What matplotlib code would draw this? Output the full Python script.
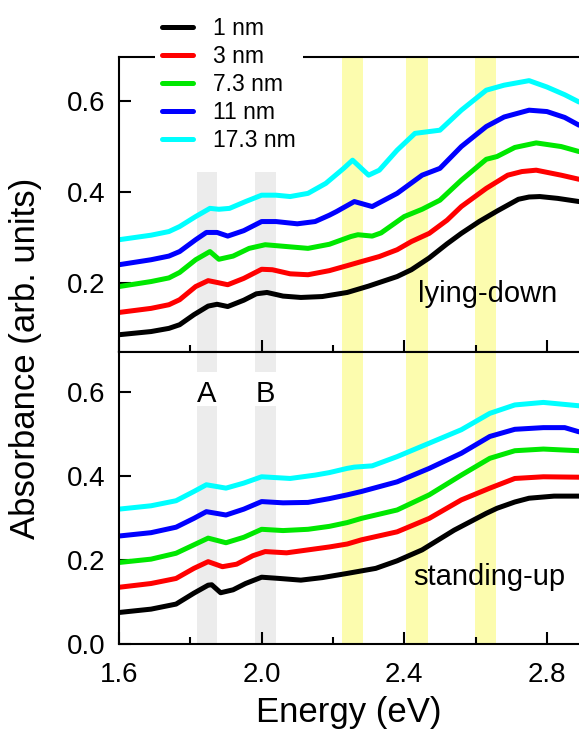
import matplotlib
matplotlib.use("Agg")
import matplotlib.pyplot as plt
from matplotlib.ticker import MultipleLocator

plt.rcParams["font.family"] = ["Liberation Sans", "DejaVu Sans"]

# film thickness labels and line colours
thickness = ["1 nm", "3 nm", "7.3 nm", "11 nm", "17.3 nm"]
colors = ["#000000", "#ff0000", "#00e800", "#0000ff", "#00ffff"]

# lying-down spectra (energy in eV, absorbance)
lying_e = [
    [1.60, 1.69, 1.74, 1.77, 1.81, 1.85, 1.875, 1.905, 1.95, 1.985, 2.015, 2.06, 2.11,
     2.17, 2.24, 2.30, 2.38, 2.42, 2.47, 2.52, 2.56, 2.61, 2.66, 2.72, 2.75, 2.78, 2.83, 2.89],
    [1.60, 1.69, 1.74, 1.77, 1.815, 1.85, 1.875, 1.905, 1.95, 2.00, 2.03, 2.08, 2.13,
     2.19, 2.24, 2.28, 2.33, 2.38, 2.42, 2.47, 2.52, 2.56, 2.63, 2.69, 2.73, 2.77, 2.84, 2.89],
    [1.60, 1.69, 1.74, 1.77, 1.815, 1.855, 1.88, 1.92, 1.965, 2.01, 2.07, 2.13, 2.19,
     2.25, 2.27, 2.31, 2.335, 2.40, 2.45, 2.50, 2.56, 2.63, 2.66, 2.71, 2.77, 2.84, 2.89],
    [1.60, 1.69, 1.74, 1.77, 1.815, 1.845, 1.875, 1.905, 1.95, 2.00, 2.04, 2.10, 2.15,
     2.19, 2.21, 2.26, 2.31, 2.38, 2.45, 2.50, 2.56, 2.63, 2.68, 2.75, 2.80, 2.85, 2.89],
    [1.60, 1.69, 1.74, 1.77, 1.815, 1.855, 1.88, 1.91, 1.955, 2.00, 2.04, 2.08, 2.13,
     2.18, 2.23, 2.255, 2.30, 2.33, 2.38, 2.43, 2.50, 2.56, 2.63, 2.68, 2.75, 2.80, 2.85, 2.89],
]
lying_a = [
    [0.086, 0.093, 0.100, 0.108, 0.130, 0.149, 0.153, 0.148, 0.162, 0.176, 0.179, 0.171, 0.168,
     0.170, 0.179, 0.193, 0.214, 0.229, 0.255, 0.286, 0.309, 0.335, 0.358, 0.384, 0.389, 0.390,
     0.386, 0.379],
    [0.135, 0.144, 0.152, 0.163, 0.192, 0.205, 0.201, 0.196, 0.210, 0.230, 0.229, 0.220, 0.218,
     0.227, 0.238, 0.247, 0.258, 0.273, 0.291, 0.309, 0.338, 0.368, 0.408, 0.437, 0.445, 0.448,
     0.437, 0.428],
    [0.192, 0.203, 0.211, 0.223, 0.251, 0.269, 0.252, 0.259, 0.276, 0.284, 0.280, 0.276, 0.285,
     0.302, 0.306, 0.303, 0.310, 0.346, 0.362, 0.382, 0.426, 0.472, 0.478, 0.498, 0.508, 0.500,
     0.489],
    [0.240, 0.251, 0.259, 0.269, 0.295, 0.311, 0.311, 0.303, 0.315, 0.335, 0.335, 0.330, 0.335,
     0.349, 0.357, 0.379, 0.368, 0.397, 0.437, 0.452, 0.500, 0.544, 0.565, 0.580, 0.577, 0.564,
     0.547],
    [0.295, 0.305, 0.313, 0.324, 0.346, 0.364, 0.362, 0.364, 0.379, 0.393, 0.393, 0.390, 0.397,
     0.419, 0.452, 0.470, 0.437, 0.448, 0.492, 0.529, 0.536, 0.580, 0.624, 0.635, 0.645, 0.631,
     0.614, 0.598],
]

# standing-up spectra
standing_e = [
    [1.60, 1.69, 1.76, 1.81, 1.85, 1.86, 1.885, 1.92, 1.955, 2.00, 2.05, 2.11,
     2.17, 2.24, 2.32, 2.38, 2.45, 2.54, 2.63, 2.66, 2.71, 2.75, 2.82, 2.89],
    [1.60, 1.69, 1.76, 1.81, 1.85, 1.89, 1.93, 1.975, 2.01, 2.07, 2.13, 2.19,
     2.24, 2.28, 2.38, 2.47, 2.56, 2.64, 2.71, 2.79, 2.89],
    [1.60, 1.69, 1.76, 1.81, 1.85, 1.90, 1.95, 2.00, 2.06, 2.13, 2.19, 2.24,
     2.28, 2.38, 2.47, 2.56, 2.64, 2.71, 2.79, 2.89],
    [1.60, 1.69, 1.76, 1.81, 1.845, 1.90, 1.95, 2.00, 2.06, 2.13, 2.19, 2.24,
     2.28, 2.38, 2.47, 2.56, 2.64, 2.71, 2.79, 2.85, 2.89],
    [1.60, 1.69, 1.76, 1.81, 1.845, 1.90, 1.95, 2.00, 2.08, 2.15, 2.19, 2.24,
     2.26, 2.31, 2.38, 2.47, 2.56, 2.64, 2.71, 2.79, 2.89],
]
standing_a = [
    [0.075, 0.083, 0.095, 0.121, 0.140, 0.141, 0.122, 0.129, 0.144, 0.159, 0.156, 0.152,
     0.158, 0.168, 0.180, 0.198, 0.224, 0.271, 0.311, 0.323, 0.338, 0.347, 0.352, 0.352],
    [0.135, 0.144, 0.156, 0.180, 0.196, 0.184, 0.190, 0.210, 0.220, 0.217, 0.224, 0.231,
     0.238, 0.248, 0.267, 0.299, 0.343, 0.371, 0.394, 0.398, 0.397],
    [0.194, 0.202, 0.216, 0.236, 0.252, 0.241, 0.254, 0.273, 0.270, 0.273, 0.280, 0.289,
     0.299, 0.319, 0.355, 0.402, 0.442, 0.460, 0.464, 0.460],
    [0.257, 0.265, 0.278, 0.299, 0.315, 0.307, 0.321, 0.339, 0.336, 0.337, 0.346, 0.355,
     0.363, 0.386, 0.418, 0.454, 0.494, 0.511, 0.515, 0.515, 0.505],
    [0.321, 0.329, 0.341, 0.363, 0.379, 0.371, 0.383, 0.398, 0.394, 0.402, 0.408, 0.418,
     0.421, 0.424, 0.446, 0.478, 0.510, 0.549, 0.569, 0.575, 0.567],
]

# highlighted energy windows
gray_bands = [(1.818, 1.874), (1.98, 2.041)]
gray_names = ["A", "B"]
yellow_bands = [(2.226, 2.284), (2.404, 2.466), (2.597, 2.656)]

GRAY = "#ececec"
YELLOW = "#fcfcae"
LW = 3.6

W, H = 579, 731
fig = plt.figure(figsize=(W / 100, H / 100), dpi=100)
left = 119 / W
ax_top = fig.add_axes([left, 1 - 352 / H, 1 - left, 295 / H])
ax_bot = fig.add_axes([left, 1 - 644 / H, 1 - left, 292 / H])

for ax in (ax_top, ax_bot):
    ax.set_xlim(1.6, 2.89)
    ax.xaxis.set_major_locator(MultipleLocator(0.4))
    ax.xaxis.set_minor_locator(MultipleLocator(0.2))
    ax.yaxis.set_major_locator(MultipleLocator(0.2))
    ax.tick_params(which="both", direction="in", width=1.5, labelsize=20,
                   top=False, right=False)
    ax.tick_params(which="major", length=8.5)
    ax.tick_params(which="minor", length=5)
    ax.tick_params(axis="y", pad=10)
    ax.tick_params(axis="x", pad=13)
    ax.spines["right"].set_visible(False)
    for s in ("left", "bottom", "top"):
        ax.spines[s].set_linewidth(1.5)
    for lo, hi in yellow_bands:
        ax.axvspan(lo, hi, color=YELLOW, lw=0, zorder=0)

ax_top.set_ylim(0.048, 0.697)
ax_bot.set_ylim(0.0, 0.695)
ax_top.tick_params(axis="x", labelbottom=False)

for lo, hi in gray_bands:
    ax_top.axvspan(lo, hi, ymax=0.61, color=GRAY, lw=0, zorder=0)
    ax_bot.axvspan(lo, hi, ymax=0.815, color=GRAY, lw=0, zorder=0)
    ax_bot.axvspan(lo, hi, ymin=0.93, color=GRAY, lw=0, zorder=0)

for name, (lo, hi) in zip(gray_names, gray_bands):
    ax_bot.text((lo + hi) / 2, 0.577, name, ha="center", va="baseline", fontsize=21)

handles = []
for e, a, c, lab in zip(lying_e, lying_a, colors, thickness):
    (ln,) = ax_top.plot(e, a, color=c, lw=LW, label=lab,
                        solid_capstyle="round", solid_joinstyle="round")
    handles.append(ln)
for e, a, c in zip(standing_e, standing_a, colors):
    ax_bot.plot(e, a, color=c, lw=LW, solid_capstyle="round", solid_joinstyle="round")

ax_top.text(2.438, 0.158, "lying-down", fontsize=21, va="baseline")
ax_bot.text(2.424, 0.140, "standing-up", fontsize=21, va="baseline")

leg = fig.legend(handles=handles, loc="upper left",
                 bbox_to_anchor=(155 / W, 1 - 10 / H), fontsize=16.5,
                 frameon=True, fancybox=False, edgecolor="none", facecolor="white",
                 framealpha=1, handlelength=1.35, handletextpad=0.9,
                 labelspacing=0.22, borderpad=0.3, borderaxespad=0)

ax_bot.set_xlabel("Energy (eV)", fontsize=25, labelpad=6)
fig.text(26 / W, 1 - 358 / H, "Absorbance (arb. units)", rotation=90,
         ha="center", va="center", fontsize=25)

fig.savefig("out.png", dpi=100)
